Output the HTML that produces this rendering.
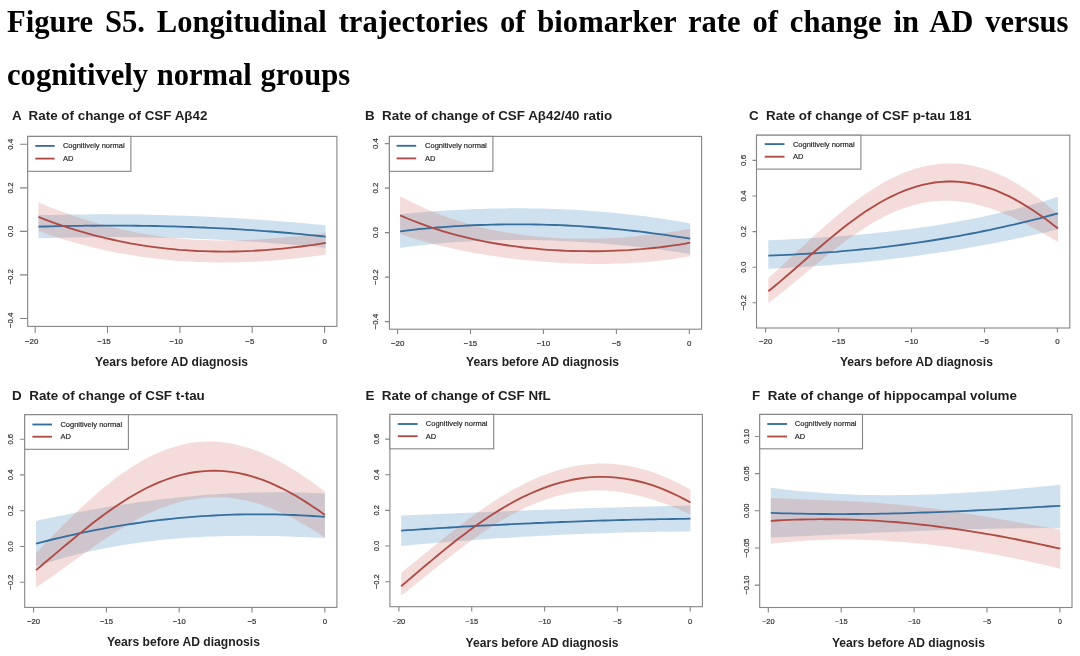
<!DOCTYPE html>
<html lang="en">
<head>
<meta charset="utf-8">
<title>Figure S5</title>
<style>
html,body{margin:0;padding:0;background:#fff;}
body{width:1080px;height:656px;position:relative;overflow:hidden;font-family:"Liberation Sans",sans-serif;}
.h{position:absolute;left:7px;font-family:"Liberation Serif",serif;font-weight:bold;font-size:30.6px;line-height:36px;color:#000;white-space:nowrap;margin:0;}
#h1{top:3.5px;width:1061.5px;text-align:justify;text-align-last:justify;white-space:normal;height:36px;overflow:hidden;}
#h2{top:56.5px;word-spacing:1px;}
svg{position:absolute;left:0;top:0;}
svg text{font-family:"Liberation Sans",sans-serif;}
.bb{fill:rgba(108,165,202,0.33);stroke:none;}
.rb{fill:rgba(208,120,108,0.26);stroke:none;}
.bl{fill:none;stroke:#336e9f;stroke-width:1.85;}
.rl{fill:none;stroke:#b04a45;stroke-width:1.85;}
.ax{fill:none;stroke:#858585;stroke-width:1.1;}
.lg{fill:#fff;stroke:#858585;stroke-width:1.1;}
.tk{fill:#303030;stroke:#303030;stroke-width:0.2;}
.lt{font-size:7.5px;fill:#2a2a2a;stroke:#2a2a2a;stroke-width:0.2;}
.tt{font-size:13.4px;font-weight:bold;fill:#1f1f1f;}
.xl{font-size:12.12px;font-weight:bold;fill:#1f1f1f;}
</style>
</head>
<body>
<div class="h" id="h1">Figure S5. Longitudinal trajectories of biomarker rate of change in AD versus</div>
<div class="h" id="h2">cognitively normal groups</div>
<svg width="1080" height="656" viewBox="0 0 1080 656">
<g id="plotA" font-size="7.9">
<path class="bb" d="M38.5,215.3 L44.6,215.1 L50.7,214.9 L56.8,214.8 L62.9,214.7 L69.1,214.6 L75.2,214.5 L81.3,214.4 L87.4,214.4 L93.5,214.3 L99.6,214.3 L105.7,214.3 L111.8,214.3 L117.9,214.4 L124.0,214.4 L130.2,214.5 L136.3,214.5 L142.4,214.6 L148.5,214.8 L154.6,214.9 L160.7,215.0 L166.8,215.2 L172.9,215.4 L179.0,215.6 L185.2,215.8 L191.3,216.0 L197.4,216.3 L203.5,216.5 L209.6,216.8 L215.7,217.1 L221.8,217.4 L227.9,217.7 L234.0,218.1 L240.2,218.5 L246.3,218.8 L252.4,219.2 L258.5,219.7 L264.6,220.1 L270.7,220.5 L276.8,221.0 L282.9,221.5 L289.0,222.0 L295.1,222.5 L301.3,223.0 L307.4,223.6 L313.5,224.2 L319.6,224.8 L325.7,225.4 L325.7,247.8 L319.6,247.2 L313.5,246.6 L307.4,246.0 L301.3,245.5 L295.1,244.9 L289.0,244.4 L282.9,243.9 L276.8,243.4 L270.7,243.0 L264.6,242.5 L258.5,242.1 L252.4,241.7 L246.3,241.3 L240.2,240.9 L234.0,240.5 L227.9,240.2 L221.8,239.9 L215.7,239.6 L209.6,239.3 L203.5,239.0 L197.4,238.8 L191.3,238.5 L185.2,238.3 L179.0,238.1 L172.9,238.0 L166.8,237.8 L160.7,237.7 L154.6,237.5 L148.5,237.4 L142.4,237.3 L136.3,237.3 L130.2,237.2 L124.0,237.2 L117.9,237.1 L111.8,237.1 L105.7,237.1 L99.6,237.2 L93.5,237.2 L87.4,237.3 L81.3,237.3 L75.2,237.4 L69.1,237.6 L62.9,237.7 L56.8,237.8 L50.7,238.0 L44.6,238.1 L38.5,238.3Z"/>
<path class="rb" d="M38.5,202.6 L44.6,205.1 L50.7,207.5 L56.8,209.8 L62.9,212.1 L69.1,214.3 L75.2,216.4 L81.3,218.4 L87.4,220.3 L93.5,222.1 L99.6,223.9 L105.7,225.5 L111.8,227.1 L117.9,228.6 L124.0,230.0 L130.2,231.3 L136.3,232.5 L142.4,233.6 L148.5,234.7 L154.6,235.6 L160.7,236.5 L166.8,237.2 L172.9,237.9 L179.0,238.5 L185.2,239.1 L191.3,239.5 L197.4,239.9 L203.5,240.1 L209.6,240.3 L215.7,240.5 L221.8,240.5 L227.9,240.5 L234.0,240.4 L240.2,240.3 L246.3,240.1 L252.4,239.8 L258.5,239.5 L264.6,239.1 L270.7,238.6 L276.8,238.1 L282.9,237.6 L289.0,237.0 L295.1,236.4 L301.3,235.7 L307.4,235.0 L313.5,234.3 L319.6,233.6 L325.7,232.8 L325.7,254.6 L319.6,255.5 L313.5,256.3 L307.4,257.1 L301.3,257.8 L295.1,258.5 L289.0,259.1 L282.9,259.7 L276.8,260.2 L270.7,260.7 L264.6,261.1 L258.5,261.4 L252.4,261.8 L246.3,262.0 L240.2,262.2 L234.0,262.3 L227.9,262.4 L221.8,262.4 L215.7,262.4 L209.6,262.3 L203.5,262.1 L197.4,261.9 L191.3,261.6 L185.2,261.3 L179.0,260.9 L172.9,260.4 L166.8,259.8 L160.7,259.2 L154.6,258.5 L148.5,257.8 L142.4,257.0 L136.3,256.1 L130.2,255.1 L124.0,254.1 L117.9,252.9 L111.8,251.7 L105.7,250.5 L99.6,249.1 L93.5,247.7 L87.4,246.1 L81.3,244.5 L75.2,242.8 L69.1,241.0 L62.9,239.2 L56.8,237.2 L50.7,235.2 L44.6,233.0 L38.5,230.8Z"/>
<path class="bl" d="M38.5,226.6 L44.6,226.5 L50.7,226.3 L56.8,226.2 L62.9,226.1 L69.1,225.9 L75.2,225.9 L81.3,225.8 L87.4,225.7 L93.5,225.7 L99.6,225.6 L105.7,225.6 L111.8,225.6 L117.9,225.6 L124.0,225.6 L130.2,225.7 L136.3,225.7 L142.4,225.8 L148.5,225.9 L154.6,226.0 L160.7,226.1 L166.8,226.3 L172.9,226.4 L179.0,226.6 L185.2,226.8 L191.3,227.0 L197.4,227.3 L203.5,227.5 L209.6,227.8 L215.7,228.1 L221.8,228.4 L227.9,228.7 L234.0,229.0 L240.2,229.4 L246.3,229.8 L252.4,230.2 L258.5,230.6 L264.6,231.1 L270.7,231.5 L276.8,232.0 L282.9,232.5 L289.0,233.0 L295.1,233.6 L301.3,234.2 L307.4,234.8 L313.5,235.4 L319.6,236.0 L325.7,236.7"/>
<path class="rl" d="M38.5,216.9 L44.6,219.3 L50.7,221.6 L56.8,223.8 L62.9,225.9 L69.1,227.9 L75.2,229.8 L81.3,231.7 L87.4,233.4 L93.5,235.1 L99.6,236.6 L105.7,238.1 L111.8,239.5 L117.9,240.9 L124.0,242.1 L130.2,243.3 L136.3,244.3 L142.4,245.4 L148.5,246.3 L154.6,247.1 L160.7,247.9 L166.8,248.6 L172.9,249.2 L179.0,249.8 L185.2,250.2 L191.3,250.6 L197.4,251.0 L203.5,251.2 L209.6,251.4 L215.7,251.5 L221.8,251.6 L227.9,251.6 L234.0,251.5 L240.2,251.4 L246.3,251.1 L252.4,250.9 L258.5,250.5 L264.6,250.1 L270.7,249.7 L276.8,249.2 L282.9,248.6 L289.0,247.9 L295.1,247.2 L301.3,246.5 L307.4,245.6 L313.5,244.8 L319.6,243.8 L325.7,242.8"/>
<rect class="ax" x="27.7" y="136.4" width="309.2" height="190.0"/>
<path class="ax" d="M35.2,326.4v6.5M107.5,326.4v6.5M179.9,326.4v6.5M252.2,326.4v6.5M324.6,326.4v6.5M27.7,144.3h-7.8M27.7,187.9h-7.8M27.7,231.4h-7.8M27.7,274.9h-7.8M27.7,318.5h-7.8"/>
<text class="tk" x="31.6" y="344.3" text-anchor="middle">−20</text>
<text class="tk" x="104.0" y="344.3" text-anchor="middle">−15</text>
<text class="tk" x="176.3" y="344.3" text-anchor="middle">−10</text>
<text class="tk" x="249.8" y="344.3" text-anchor="middle">−5</text>
<text class="tk" x="324.6" y="344.3" text-anchor="middle">0</text>
<text class="tk" transform="translate(13.0,144.3) rotate(-90)" text-anchor="middle">0.4</text>
<text class="tk" transform="translate(13.0,187.9) rotate(-90)" text-anchor="middle">0.2</text>
<text class="tk" transform="translate(13.0,231.4) rotate(-90)" text-anchor="middle">0.0</text>
<text class="tk" transform="translate(13.0,276.8) rotate(-90)" text-anchor="middle">−0.2</text>
<text class="tk" transform="translate(13.0,320.4) rotate(-90)" text-anchor="middle">−0.4</text>
<rect class="lg" x="27.7" y="136.4" width="103.2" height="34.9"/>
<path class="bl" d="M35.3,145.9H54.6"/>
<path class="rl" d="M35.3,158.6H54.6"/>
<text class="lt" x="62.9" y="148.3">Cognitively normal</text>
<text class="lt" x="62.9" y="161.0">AD</text>
<text class="tt" x="12.0" y="119.9" xml:space="preserve">A  Rate of change of CSF Aβ42</text>
<text class="xl" x="95.1" y="366.1">Years before AD diagnosis</text>
</g>
<g id="plotB" font-size="7.9">
<path class="bb" d="M400.1,214.2 L406.3,213.7 L412.4,213.1 L418.6,212.6 L424.8,212.0 L431.0,211.6 L437.1,211.1 L443.3,210.7 L449.5,210.3 L455.7,210.0 L461.8,209.7 L468.0,209.4 L474.2,209.1 L480.3,208.9 L486.5,208.7 L492.7,208.6 L498.9,208.4 L505.0,208.4 L511.2,208.3 L517.4,208.3 L523.5,208.3 L529.7,208.4 L535.9,208.5 L542.1,208.6 L548.2,208.8 L554.4,209.0 L560.6,209.2 L566.8,209.5 L572.9,209.8 L579.1,210.1 L585.3,210.5 L591.4,211.0 L597.6,211.4 L603.8,211.9 L610.0,212.5 L616.1,213.1 L622.3,213.7 L628.5,214.4 L634.6,215.1 L640.8,215.8 L647.0,216.6 L653.2,217.5 L659.3,218.3 L665.5,219.3 L671.7,220.2 L677.9,221.2 L684.0,222.3 L690.2,223.4 L690.2,253.9 L684.0,253.0 L677.9,252.1 L671.7,251.2 L665.5,250.4 L659.3,249.6 L653.2,248.8 L647.0,248.0 L640.8,247.3 L634.6,246.6 L628.5,246.0 L622.3,245.3 L616.1,244.7 L610.0,244.2 L603.8,243.6 L597.6,243.1 L591.4,242.7 L585.3,242.3 L579.1,241.9 L572.9,241.5 L566.8,241.2 L560.6,240.9 L554.4,240.6 L548.2,240.4 L542.1,240.3 L535.9,240.1 L529.7,240.0 L523.5,240.0 L517.4,240.0 L511.2,240.0 L505.0,240.1 L498.9,240.2 L492.7,240.3 L486.5,240.5 L480.3,240.8 L474.2,241.0 L468.0,241.4 L461.8,241.7 L455.7,242.1 L449.5,242.6 L443.3,243.1 L437.1,243.7 L431.0,244.3 L424.8,244.9 L418.6,245.6 L412.4,246.3 L406.3,247.1 L400.1,248.0Z"/>
<path class="rb" d="M400.1,196.2 L406.3,199.5 L412.4,202.6 L418.6,205.5 L424.8,208.2 L431.0,210.9 L437.1,213.4 L443.3,215.7 L449.5,217.9 L455.7,220.0 L461.8,221.9 L468.0,223.7 L474.2,225.4 L480.3,227.0 L486.5,228.5 L492.7,229.9 L498.9,231.1 L505.0,232.3 L511.2,233.3 L517.4,234.2 L523.5,235.1 L529.7,235.8 L535.9,236.5 L542.1,237.1 L548.2,237.6 L554.4,238.0 L560.6,238.3 L566.8,238.5 L572.9,238.7 L579.1,238.8 L585.3,238.8 L591.4,238.7 L597.6,238.6 L603.8,238.4 L610.0,238.1 L616.1,237.8 L622.3,237.4 L628.5,236.9 L634.6,236.4 L640.8,235.8 L647.0,235.1 L653.2,234.4 L659.3,233.6 L665.5,232.7 L671.7,231.8 L677.9,230.9 L684.0,229.8 L690.2,228.7 L690.2,256.2 L684.0,257.3 L677.9,258.3 L671.7,259.2 L665.5,260.0 L659.3,260.7 L653.2,261.3 L647.0,261.9 L640.8,262.4 L634.6,262.8 L628.5,263.2 L622.3,263.4 L616.1,263.6 L610.0,263.8 L603.8,263.9 L597.6,263.9 L591.4,263.9 L585.3,263.8 L579.1,263.6 L572.9,263.4 L566.8,263.2 L560.6,262.9 L554.4,262.5 L548.2,262.1 L542.1,261.6 L535.9,261.1 L529.7,260.5 L523.5,259.9 L517.4,259.2 L511.2,258.5 L505.0,257.7 L498.9,256.8 L492.7,255.9 L486.5,255.0 L480.3,253.9 L474.2,252.9 L468.0,251.7 L461.8,250.5 L455.7,249.2 L449.5,247.8 L443.3,246.4 L437.1,244.9 L431.0,243.3 L424.8,241.6 L418.6,239.9 L412.4,238.0 L406.3,236.1 L400.1,234.1Z"/>
<path class="bl" d="M400.1,231.3 L406.3,230.6 L412.4,229.9 L418.6,229.2 L424.8,228.6 L431.0,228.1 L437.1,227.5 L443.3,227.1 L449.5,226.6 L455.7,226.2 L461.8,225.8 L468.0,225.5 L474.2,225.2 L480.3,225.0 L486.5,224.8 L492.7,224.6 L498.9,224.5 L505.0,224.4 L511.2,224.3 L517.4,224.3 L523.5,224.3 L529.7,224.4 L535.9,224.5 L542.1,224.6 L548.2,224.8 L554.4,225.0 L560.6,225.2 L566.8,225.5 L572.9,225.8 L579.1,226.2 L585.3,226.6 L591.4,227.0 L597.6,227.5 L603.8,228.0 L610.0,228.5 L616.1,229.1 L622.3,229.7 L628.5,230.3 L634.6,231.0 L640.8,231.7 L647.0,232.5 L653.2,233.3 L659.3,234.1 L665.5,234.9 L671.7,235.8 L677.9,236.8 L684.0,237.7 L690.2,238.7"/>
<path class="rl" d="M400.1,215.4 L406.3,218.0 L412.4,220.5 L418.6,222.9 L424.8,225.2 L431.0,227.3 L437.1,229.4 L443.3,231.3 L449.5,233.1 L455.7,234.8 L461.8,236.4 L468.0,237.9 L474.2,239.3 L480.3,240.6 L486.5,241.8 L492.7,243.0 L498.9,244.0 L505.0,245.0 L511.2,245.9 L517.4,246.7 L523.5,247.5 L529.7,248.1 L535.9,248.7 L542.1,249.3 L548.2,249.8 L554.4,250.2 L560.6,250.5 L566.8,250.8 L572.9,251.0 L579.1,251.1 L585.3,251.2 L591.4,251.2 L597.6,251.2 L603.8,251.1 L610.0,250.9 L616.1,250.7 L622.3,250.4 L628.5,250.1 L634.6,249.6 L640.8,249.2 L647.0,248.6 L653.2,248.0 L659.3,247.3 L665.5,246.5 L671.7,245.7 L677.9,244.8 L684.0,243.8 L690.2,242.7"/>
<rect class="ax" x="389.4" y="136.4" width="312.2" height="192.8"/>
<path class="ax" d="M397.6,329.2v4.8M470.5,329.2v4.8M543.4,329.2v4.8M616.4,329.2v4.8M689.3,329.2v4.8M389.4,143.6h-4.5M389.4,188.1h-4.5M389.4,232.6h-4.5M389.4,277.1h-4.5M389.4,321.6h-4.5"/>
<text class="tk" x="397.6" y="345.6" text-anchor="middle">−20</text>
<text class="tk" x="470.5" y="345.6" text-anchor="middle">−15</text>
<text class="tk" x="543.4" y="345.6" text-anchor="middle">−10</text>
<text class="tk" x="616.4" y="345.6" text-anchor="middle">−5</text>
<text class="tk" x="689.3" y="345.6" text-anchor="middle">0</text>
<text class="tk" transform="translate(378.4,143.6) rotate(-90)" text-anchor="middle">0.4</text>
<text class="tk" transform="translate(378.4,188.1) rotate(-90)" text-anchor="middle">0.2</text>
<text class="tk" transform="translate(378.4,232.6) rotate(-90)" text-anchor="middle">0.0</text>
<text class="tk" transform="translate(378.4,277.1) rotate(-90)" text-anchor="middle">−0.2</text>
<text class="tk" transform="translate(378.4,321.6) rotate(-90)" text-anchor="middle">−0.4</text>
<rect class="lg" x="389.4" y="136.4" width="103.5" height="34.9"/>
<path class="bl" d="M396.6,145.8H416.2"/>
<path class="rl" d="M396.6,158.4H416.2"/>
<text class="lt" x="425.1" y="148.2">Cognitively normal</text>
<text class="lt" x="425.1" y="160.8">AD</text>
<text class="tt" x="365.0" y="119.9" xml:space="preserve">B  Rate of change of CSF Aβ42/40 ratio</text>
<text class="xl" x="466.0" y="366.1">Years before AD diagnosis</text>
</g>
<g id="plotC" font-size="7.9">
<path class="bb" d="M768.3,240.3 L774.5,240.0 L780.6,239.7 L786.8,239.4 L793.0,239.1 L799.1,238.8 L805.3,238.5 L811.4,238.1 L817.6,237.7 L823.8,237.3 L829.9,236.9 L836.1,236.5 L842.3,236.0 L848.4,235.5 L854.6,235.0 L860.8,234.4 L866.9,233.9 L873.1,233.3 L879.2,232.6 L885.4,232.0 L891.6,231.3 L897.7,230.6 L903.9,229.8 L910.1,229.0 L916.2,228.2 L922.4,227.3 L928.6,226.4 L934.7,225.5 L940.9,224.5 L947.1,223.5 L953.2,222.4 L959.4,221.3 L965.5,220.2 L971.7,219.0 L977.9,217.7 L984.0,216.4 L990.2,215.1 L996.4,213.7 L1002.5,212.3 L1008.7,210.8 L1014.9,209.2 L1021.0,207.6 L1027.2,206.0 L1033.3,204.3 L1039.5,202.5 L1045.7,200.7 L1051.8,198.8 L1058.0,196.8 L1058.0,229.2 L1051.8,230.7 L1045.7,232.2 L1039.5,233.6 L1033.3,235.0 L1027.2,236.3 L1021.0,237.7 L1014.9,239.0 L1008.7,240.2 L1002.5,241.5 L996.4,242.7 L990.2,243.9 L984.0,245.0 L977.9,246.2 L971.7,247.2 L965.5,248.3 L959.4,249.4 L953.2,250.4 L947.1,251.4 L940.9,252.3 L934.7,253.2 L928.6,254.1 L922.4,255.0 L916.2,255.9 L910.1,256.7 L903.9,257.5 L897.7,258.3 L891.6,259.0 L885.4,259.7 L879.2,260.4 L873.1,261.1 L866.9,261.7 L860.8,262.4 L854.6,263.0 L848.4,263.5 L842.3,264.1 L836.1,264.6 L829.9,265.1 L823.8,265.6 L817.6,266.0 L811.4,266.4 L805.3,266.8 L799.1,267.2 L793.0,267.6 L786.8,267.9 L780.6,268.2 L774.5,268.5 L768.3,268.8Z"/>
<path class="rb" d="M768.3,278.2 L774.5,272.5 L780.6,266.9 L786.8,261.1 L793.0,255.4 L799.1,249.6 L805.3,243.9 L811.4,238.2 L817.6,232.6 L823.8,227.1 L829.9,221.7 L836.1,216.5 L842.3,211.4 L848.4,206.5 L854.6,201.8 L860.8,197.2 L866.9,193.0 L873.1,188.9 L879.2,185.2 L885.4,181.6 L891.6,178.4 L897.7,175.5 L903.9,172.8 L910.1,170.5 L916.2,168.5 L922.4,166.8 L928.6,165.5 L934.7,164.4 L940.9,163.8 L947.1,163.4 L953.2,163.4 L959.4,163.8 L965.5,164.5 L971.7,165.6 L977.9,167.0 L984.0,168.7 L990.2,170.8 L996.4,173.2 L1002.5,176.0 L1008.7,179.0 L1014.9,182.4 L1021.0,186.2 L1027.2,190.2 L1033.3,194.5 L1039.5,199.0 L1045.7,203.9 L1051.8,209.0 L1058.0,214.3 L1058.0,241.9 L1051.8,238.4 L1045.7,234.8 L1039.5,231.3 L1033.3,227.9 L1027.2,224.6 L1021.0,221.4 L1014.9,218.4 L1008.7,215.6 L1002.5,212.9 L996.4,210.5 L990.2,208.3 L984.0,206.4 L977.9,204.7 L971.7,203.3 L965.5,202.2 L959.4,201.4 L953.2,200.9 L947.1,200.7 L940.9,200.8 L934.7,201.2 L928.6,202.0 L922.4,203.1 L916.2,204.4 L910.1,206.2 L903.9,208.2 L897.7,210.5 L891.6,213.1 L885.4,216.0 L879.2,219.2 L873.1,222.7 L866.9,226.4 L860.8,230.4 L854.6,234.5 L848.4,238.9 L842.3,243.5 L836.1,248.2 L829.9,253.0 L823.8,258.0 L817.6,263.1 L811.4,268.2 L805.3,273.3 L799.1,278.5 L793.0,283.6 L786.8,288.7 L780.6,293.6 L774.5,298.5 L768.3,303.1Z"/>
<path class="bl" d="M768.3,255.6 L774.5,255.4 L780.6,255.1 L786.8,254.9 L793.0,254.6 L799.1,254.2 L805.3,253.9 L811.4,253.5 L817.6,253.1 L823.8,252.7 L829.9,252.2 L836.1,251.8 L842.3,251.2 L848.4,250.7 L854.6,250.1 L860.8,249.5 L866.9,248.9 L873.1,248.3 L879.2,247.6 L885.4,246.8 L891.6,246.1 L897.7,245.3 L903.9,244.5 L910.1,243.7 L916.2,242.8 L922.4,241.9 L928.6,241.0 L934.7,240.0 L940.9,239.0 L947.1,238.0 L953.2,236.9 L959.4,235.8 L965.5,234.6 L971.7,233.5 L977.9,232.3 L984.0,231.0 L990.2,229.8 L996.4,228.4 L1002.5,227.1 L1008.7,225.7 L1014.9,224.3 L1021.0,222.8 L1027.2,221.3 L1033.3,219.8 L1039.5,218.3 L1045.7,216.6 L1051.8,215.0 L1058.0,213.3"/>
<path class="rl" d="M768.3,291.2 L774.5,286.2 L780.6,281.1 L786.8,275.8 L793.0,270.5 L799.1,265.1 L805.3,259.7 L811.4,254.3 L817.6,249.0 L823.8,243.7 L829.9,238.6 L836.1,233.5 L842.3,228.6 L848.4,223.8 L854.6,219.2 L860.8,214.8 L866.9,210.6 L873.1,206.7 L879.2,203.0 L885.4,199.5 L891.6,196.4 L897.7,193.5 L903.9,190.9 L910.1,188.6 L916.2,186.6 L922.4,184.9 L928.6,183.6 L934.7,182.5 L940.9,181.9 L947.1,181.5 L953.2,181.5 L959.4,181.8 L965.5,182.5 L971.7,183.5 L977.9,184.8 L984.0,186.5 L990.2,188.5 L996.4,190.7 L1002.5,193.3 L1008.7,196.2 L1014.9,199.4 L1021.0,202.9 L1027.2,206.6 L1033.3,210.5 L1039.5,214.7 L1045.7,219.1 L1051.8,223.7 L1058.0,228.5"/>
<rect class="ax" x="756.5" y="135.2" width="313.3" height="192.8"/>
<path class="ax" d="M765.6,328.0v4.5M838.6,328.0v4.5M911.5,328.0v4.5M984.5,328.0v4.5M1057.4,328.0v4.5M756.5,160.4h-4.0M756.5,196.0h-4.0M756.5,231.6h-4.0M756.5,267.2h-4.0M756.5,302.8h-4.0"/>
<text class="tk" x="765.6" y="344.3" text-anchor="middle">−20</text>
<text class="tk" x="838.6" y="344.3" text-anchor="middle">−15</text>
<text class="tk" x="911.5" y="344.3" text-anchor="middle">−10</text>
<text class="tk" x="984.5" y="344.3" text-anchor="middle">−5</text>
<text class="tk" x="1057.4" y="344.3" text-anchor="middle">0</text>
<text class="tk" transform="translate(746.0,160.4) rotate(-90)" text-anchor="middle">0.6</text>
<text class="tk" transform="translate(746.0,196.0) rotate(-90)" text-anchor="middle">0.4</text>
<text class="tk" transform="translate(746.0,231.6) rotate(-90)" text-anchor="middle">0.2</text>
<text class="tk" transform="translate(746.0,267.2) rotate(-90)" text-anchor="middle">0.0</text>
<text class="tk" transform="translate(746.0,302.8) rotate(-90)" text-anchor="middle">−0.2</text>
<rect class="lg" x="756.5" y="135.2" width="104.4" height="33.9"/>
<path class="bl" d="M764.7,144.1H784.5"/>
<path class="rl" d="M764.7,156.7H784.5"/>
<text class="lt" x="792.9" y="146.5">Cognitively normal</text>
<text class="lt" x="792.9" y="159.1">AD</text>
<text class="tt" x="749.0" y="119.9" xml:space="preserve">C  Rate of change of CSF p-tau 181</text>
<text class="xl" x="839.9" y="366.1">Years before AD diagnosis</text>
</g>
<g id="plotD" font-size="7.7">
<path class="bb" d="M36.0,520.9 L42.1,519.5 L48.3,518.2 L54.4,516.9 L60.6,515.7 L66.7,514.4 L72.9,513.2 L79.0,512.0 L85.2,510.9 L91.3,509.8 L97.5,508.7 L103.6,507.7 L109.8,506.6 L115.9,505.6 L122.1,504.7 L128.2,503.8 L134.3,502.9 L140.5,502.0 L146.6,501.2 L152.8,500.4 L158.9,499.6 L165.1,498.9 L171.2,498.2 L177.4,497.6 L183.5,496.9 L189.7,496.4 L195.8,495.8 L202.0,495.3 L208.1,494.8 L214.3,494.4 L220.4,494.0 L226.6,493.7 L232.7,493.3 L238.8,493.1 L245.0,492.8 L251.1,492.6 L257.3,492.5 L263.4,492.4 L269.6,492.3 L275.7,492.2 L281.9,492.3 L288.0,492.3 L294.2,492.4 L300.3,492.5 L306.5,492.7 L312.6,492.9 L318.8,493.2 L324.9,493.5 L324.9,538.0 L318.8,537.7 L312.6,537.4 L306.5,537.1 L300.3,536.9 L294.2,536.7 L288.0,536.5 L281.9,536.3 L275.7,536.1 L269.6,536.0 L263.4,535.9 L257.3,535.9 L251.1,535.8 L245.0,535.8 L238.8,535.9 L232.7,535.9 L226.6,536.1 L220.4,536.2 L214.3,536.4 L208.1,536.6 L202.0,536.9 L195.8,537.3 L189.7,537.6 L183.5,538.1 L177.4,538.5 L171.2,539.0 L165.1,539.6 L158.9,540.2 L152.8,540.9 L146.6,541.7 L140.5,542.5 L134.3,543.3 L128.2,544.2 L122.1,545.2 L115.9,546.3 L109.8,547.4 L103.6,548.6 L97.5,549.8 L91.3,551.1 L85.2,552.5 L79.0,554.0 L72.9,555.5 L66.7,557.1 L60.6,558.8 L54.4,560.5 L48.3,562.4 L42.1,564.3 L36.0,566.3Z"/>
<path class="rb" d="M36.0,553.0 L42.1,546.7 L48.3,540.3 L54.4,534.0 L60.6,527.8 L66.7,521.7 L72.9,515.6 L79.0,509.8 L85.2,504.0 L91.3,498.4 L97.5,493.0 L103.6,487.8 L109.8,482.9 L115.9,478.1 L122.1,473.6 L128.2,469.4 L134.3,465.4 L140.5,461.7 L146.6,458.3 L152.8,455.2 L158.9,452.4 L165.1,449.9 L171.2,447.7 L177.4,445.9 L183.5,444.3 L189.7,443.1 L195.8,442.3 L202.0,441.7 L208.1,441.5 L214.3,441.6 L220.4,442.0 L226.6,442.8 L232.7,443.8 L238.8,445.2 L245.0,446.9 L251.1,448.8 L257.3,451.1 L263.4,453.6 L269.6,456.4 L275.7,459.5 L281.9,462.8 L288.0,466.4 L294.2,470.1 L300.3,474.1 L306.5,478.2 L312.6,482.5 L318.8,487.0 L324.9,491.6 L324.9,537.5 L318.8,533.5 L312.6,529.6 L306.5,525.9 L300.3,522.4 L294.2,519.0 L288.0,515.9 L281.9,513.0 L275.7,510.2 L269.6,507.8 L263.4,505.5 L257.3,503.5 L251.1,501.8 L245.0,500.3 L238.8,499.2 L232.7,498.2 L226.6,497.6 L220.4,497.3 L214.3,497.2 L208.1,497.4 L202.0,497.9 L195.8,498.7 L189.7,499.8 L183.5,501.1 L177.4,502.7 L171.2,504.6 L165.1,506.7 L158.9,509.1 L152.8,511.7 L146.6,514.6 L140.5,517.6 L134.3,520.9 L128.2,524.4 L122.1,528.0 L115.9,531.8 L109.8,535.8 L103.6,539.9 L97.5,544.1 L91.3,548.4 L85.2,552.7 L79.0,557.2 L72.9,561.6 L66.7,566.1 L60.6,570.5 L54.4,574.9 L48.3,579.2 L42.1,583.4 L36.0,587.5Z"/>
<path class="bl" d="M36.0,543.7 L42.1,542.1 L48.3,540.5 L54.4,539.0 L60.6,537.6 L66.7,536.1 L72.9,534.8 L79.0,533.4 L85.2,532.1 L91.3,530.9 L97.5,529.7 L103.6,528.6 L109.8,527.4 L115.9,526.4 L122.1,525.4 L128.2,524.4 L134.3,523.5 L140.5,522.6 L146.6,521.7 L152.8,520.9 L158.9,520.2 L165.1,519.5 L171.2,518.8 L177.4,518.2 L183.5,517.7 L189.7,517.1 L195.8,516.6 L202.0,516.2 L208.1,515.8 L214.3,515.5 L220.4,515.2 L226.6,514.9 L232.7,514.7 L238.8,514.5 L245.0,514.4 L251.1,514.3 L257.3,514.3 L263.4,514.3 L269.6,514.3 L275.7,514.4 L281.9,514.6 L288.0,514.8 L294.2,515.0 L300.3,515.3 L306.5,515.6 L312.6,516.0 L318.8,516.4 L324.9,516.8"/>
<path class="rl" d="M36.0,570.1 L42.1,565.0 L48.3,559.8 L54.4,554.6 L60.6,549.4 L66.7,544.3 L72.9,539.2 L79.0,534.1 L85.2,529.2 L91.3,524.3 L97.5,519.6 L103.6,515.0 L109.8,510.5 L115.9,506.3 L122.1,502.2 L128.2,498.3 L134.3,494.7 L140.5,491.2 L146.6,488.0 L152.8,485.1 L158.9,482.4 L165.1,480.0 L171.2,477.8 L177.4,475.9 L183.5,474.3 L189.7,473.0 L195.8,472.0 L202.0,471.3 L208.1,470.9 L214.3,470.7 L220.4,470.9 L226.6,471.4 L232.7,472.1 L238.8,473.2 L245.0,474.5 L251.1,476.1 L257.3,478.1 L263.4,480.2 L269.6,482.7 L275.7,485.4 L281.9,488.3 L288.0,491.5 L294.2,494.9 L300.3,498.5 L306.5,502.4 L312.6,506.4 L318.8,510.6 L324.9,514.9"/>
<rect class="ax" x="24.7" y="414.7" width="312.2" height="192.7"/>
<path class="ax" d="M33.6,607.4v5.0M106.4,607.4v5.0M179.2,607.4v5.0M252.0,607.4v5.0M324.8,607.4v5.0M24.7,439.2h-4.6M24.7,474.9h-4.6M24.7,510.7h-4.6M24.7,546.5h-4.6M24.7,582.2h-4.6"/>
<text class="tk" x="33.6" y="623.6" text-anchor="middle">−20</text>
<text class="tk" x="106.4" y="623.6" text-anchor="middle">−15</text>
<text class="tk" x="179.2" y="623.6" text-anchor="middle">−10</text>
<text class="tk" x="252.0" y="623.6" text-anchor="middle">−5</text>
<text class="tk" x="324.8" y="623.6" text-anchor="middle">0</text>
<text class="tk" transform="translate(13.0,439.2) rotate(-90)" text-anchor="middle">0.6</text>
<text class="tk" transform="translate(13.0,474.9) rotate(-90)" text-anchor="middle">0.4</text>
<text class="tk" transform="translate(13.0,510.7) rotate(-90)" text-anchor="middle">0.2</text>
<text class="tk" transform="translate(13.0,546.5) rotate(-90)" text-anchor="middle">0.0</text>
<text class="tk" transform="translate(13.0,582.2) rotate(-90)" text-anchor="middle">−0.2</text>
<rect class="lg" x="24.7" y="414.7" width="103.7" height="34.6"/>
<path class="bl" d="M32.4,424.5H52.0"/>
<path class="rl" d="M32.4,436.7H52.0"/>
<text class="lt" x="60.4" y="426.9">Cognitively normal</text>
<text class="lt" x="60.4" y="439.1">AD</text>
<text class="tt" x="12.1" y="400.4" xml:space="preserve">D  Rate of change of CSF t-tau</text>
<text class="xl" x="106.9" y="646.2">Years before AD diagnosis</text>
</g>
<g id="plotE" font-size="7.5">
<path class="bb" d="M401.2,515.4 L407.4,515.2 L413.5,514.9 L419.7,514.7 L425.8,514.4 L432.0,514.2 L438.1,513.9 L444.3,513.7 L450.4,513.5 L456.6,513.2 L462.8,513.0 L468.9,512.7 L475.1,512.5 L481.2,512.2 L487.4,512.0 L493.5,511.7 L499.7,511.5 L505.8,511.3 L512.0,511.0 L518.2,510.8 L524.3,510.5 L530.5,510.3 L536.6,510.1 L542.8,509.8 L548.9,509.6 L555.1,509.4 L561.2,509.2 L567.4,509.0 L573.5,508.8 L579.7,508.5 L585.9,508.3 L592.0,508.1 L598.2,507.9 L604.3,507.7 L610.5,507.6 L616.6,507.4 L622.8,507.2 L628.9,507.0 L635.1,506.8 L641.3,506.7 L647.4,506.5 L653.6,506.4 L659.7,506.2 L665.9,506.1 L672.0,506.0 L678.2,505.8 L684.3,505.7 L690.5,505.6 L690.5,531.5 L684.3,531.6 L678.2,531.6 L672.0,531.7 L665.9,531.8 L659.7,531.8 L653.6,531.9 L647.4,532.0 L641.3,532.2 L635.1,532.3 L628.9,532.4 L622.8,532.6 L616.6,532.8 L610.5,533.0 L604.3,533.2 L598.2,533.4 L592.0,533.6 L585.9,533.8 L579.7,534.1 L573.5,534.3 L567.4,534.6 L561.2,534.8 L555.1,535.1 L548.9,535.4 L542.8,535.8 L536.6,536.1 L530.5,536.4 L524.3,536.8 L518.2,537.1 L512.0,537.5 L505.8,537.9 L499.7,538.2 L493.5,538.6 L487.4,539.1 L481.2,539.5 L475.1,539.9 L468.9,540.4 L462.8,540.8 L456.6,541.3 L450.4,541.8 L444.3,542.2 L438.1,542.7 L432.0,543.2 L425.8,543.8 L419.7,544.3 L413.5,544.8 L407.4,545.4 L401.2,545.9Z"/>
<path class="rb" d="M401.2,572.7 L407.4,567.8 L413.5,562.8 L419.7,557.8 L425.8,552.8 L432.0,547.8 L438.1,542.8 L444.3,537.8 L450.4,532.9 L456.6,528.1 L462.8,523.4 L468.9,518.8 L475.1,514.3 L481.2,509.9 L487.4,505.6 L493.5,501.5 L499.7,497.6 L505.8,493.9 L512.0,490.3 L518.2,486.9 L524.3,483.7 L530.5,480.8 L536.6,478.0 L542.8,475.5 L548.9,473.2 L555.1,471.1 L561.2,469.3 L567.4,467.7 L573.5,466.4 L579.7,465.3 L585.9,464.5 L592.0,463.9 L598.2,463.6 L604.3,463.6 L610.5,463.8 L616.6,464.3 L622.8,465.1 L628.9,466.1 L635.1,467.3 L641.3,468.9 L647.4,470.6 L653.6,472.6 L659.7,474.9 L665.9,477.4 L672.0,480.1 L678.2,483.1 L684.3,486.3 L690.5,489.7 L690.5,514.6 L684.3,511.8 L678.2,509.1 L672.0,506.5 L665.9,504.1 L659.7,501.9 L653.6,499.8 L647.4,497.9 L641.3,496.2 L635.1,494.7 L628.9,493.4 L622.8,492.4 L616.6,491.6 L610.5,491.0 L604.3,490.6 L598.2,490.5 L592.0,490.6 L585.9,491.0 L579.7,491.6 L573.5,492.5 L567.4,493.6 L561.2,495.0 L555.1,496.6 L548.9,498.5 L542.8,500.6 L536.6,503.0 L530.5,505.5 L524.3,508.3 L518.2,511.4 L512.0,514.6 L505.8,518.0 L499.7,521.7 L493.5,525.5 L487.4,529.5 L481.2,533.6 L475.1,537.9 L468.9,542.4 L462.8,546.9 L456.6,551.6 L450.4,556.4 L444.3,561.2 L438.1,566.1 L432.0,571.1 L425.8,576.0 L419.7,581.0 L413.5,586.0 L407.4,590.9 L401.2,595.7Z"/>
<path class="bl" d="M401.2,530.6 L407.4,530.2 L413.5,529.8 L419.7,529.4 L425.8,529.0 L432.0,528.6 L438.1,528.2 L444.3,527.8 L450.4,527.5 L456.6,527.1 L462.8,526.7 L468.9,526.4 L475.1,526.0 L481.2,525.7 L487.4,525.4 L493.5,525.1 L499.7,524.8 L505.8,524.5 L512.0,524.2 L518.2,523.9 L524.3,523.6 L530.5,523.3 L536.6,523.0 L542.8,522.8 L548.9,522.5 L555.1,522.3 L561.2,522.0 L567.4,521.8 L573.5,521.6 L579.7,521.3 L585.9,521.1 L592.0,520.9 L598.2,520.7 L604.3,520.5 L610.5,520.4 L616.6,520.2 L622.8,520.0 L628.9,519.9 L635.1,519.7 L641.3,519.6 L647.4,519.4 L653.6,519.3 L659.7,519.2 L665.9,519.1 L672.0,519.0 L678.2,518.9 L684.3,518.8 L690.5,518.7"/>
<path class="rl" d="M401.2,586.2 L407.4,580.9 L413.5,575.7 L419.7,570.4 L425.8,565.2 L432.0,560.1 L438.1,555.0 L444.3,549.9 L450.4,545.0 L456.6,540.1 L462.8,535.4 L468.9,530.8 L475.1,526.3 L481.2,522.0 L487.4,517.8 L493.5,513.8 L499.7,509.9 L505.8,506.2 L512.0,502.7 L518.2,499.4 L524.3,496.3 L530.5,493.5 L536.6,490.8 L542.8,488.3 L548.9,486.1 L555.1,484.1 L561.2,482.3 L567.4,480.8 L573.5,479.5 L579.7,478.5 L585.9,477.7 L592.0,477.2 L598.2,476.9 L604.3,476.9 L610.5,477.1 L616.6,477.6 L622.8,478.3 L628.9,479.3 L635.1,480.5 L641.3,482.0 L647.4,483.7 L653.6,485.7 L659.7,487.9 L665.9,490.4 L672.0,493.1 L678.2,496.0 L684.3,499.1 L690.5,502.5"/>
<rect class="ax" x="389.9" y="414.4" width="312.5" height="192.3"/>
<path class="ax" d="M398.9,606.7v4.7M471.7,606.7v4.7M544.6,606.7v4.7M617.4,606.7v4.7M690.2,606.7v4.7M389.9,439.1h-4.7M389.9,474.8h-4.7M389.9,510.4h-4.7M389.9,546.0h-4.7M389.9,581.7h-4.7"/>
<text class="tk" x="398.9" y="623.6" text-anchor="middle">−20</text>
<text class="tk" x="471.7" y="623.6" text-anchor="middle">−15</text>
<text class="tk" x="544.6" y="623.6" text-anchor="middle">−10</text>
<text class="tk" x="617.4" y="623.6" text-anchor="middle">−5</text>
<text class="tk" x="690.2" y="623.6" text-anchor="middle">0</text>
<text class="tk" transform="translate(379.0,439.1) rotate(-90)" text-anchor="middle">0.6</text>
<text class="tk" transform="translate(379.0,474.8) rotate(-90)" text-anchor="middle">0.4</text>
<text class="tk" transform="translate(379.0,510.4) rotate(-90)" text-anchor="middle">0.2</text>
<text class="tk" transform="translate(379.0,546.0) rotate(-90)" text-anchor="middle">0.0</text>
<text class="tk" transform="translate(379.0,581.7) rotate(-90)" text-anchor="middle">−0.2</text>
<rect class="lg" x="389.9" y="414.4" width="103.8" height="34.4"/>
<path class="bl" d="M397.8,424.0H417.6"/>
<path class="rl" d="M397.8,436.2H417.6"/>
<text class="lt" x="425.8" y="426.4">Cognitively normal</text>
<text class="lt" x="425.8" y="438.6">AD</text>
<text class="tt" x="365.5" y="400.1" xml:space="preserve">E  Rate of change of CSF NfL</text>
<text class="xl" x="465.6" y="646.6">Years before AD diagnosis</text>
</g>
<g id="plotF" font-size="7.5">
<path class="bb" d="M770.8,487.7 L777.0,488.5 L783.1,489.3 L789.3,490.0 L795.4,490.7 L801.6,491.3 L807.8,491.8 L813.9,492.3 L820.1,492.8 L826.2,493.2 L832.4,493.6 L838.6,493.9 L844.7,494.2 L850.9,494.5 L857.0,494.7 L863.2,494.9 L869.4,495.0 L875.5,495.1 L881.7,495.2 L887.8,495.2 L894.0,495.2 L900.2,495.1 L906.3,495.1 L912.5,494.9 L918.6,494.8 L924.8,494.6 L930.9,494.4 L937.1,494.2 L943.3,493.9 L949.4,493.6 L955.6,493.3 L961.7,493.0 L967.9,492.6 L974.1,492.2 L980.2,491.8 L986.4,491.4 L992.5,490.9 L998.7,490.4 L1004.9,489.9 L1011.0,489.4 L1017.2,488.9 L1023.3,488.3 L1029.5,487.8 L1035.7,487.2 L1041.8,486.6 L1048.0,486.0 L1054.1,485.4 L1060.3,484.7 L1060.3,528.2 L1054.1,528.2 L1048.0,528.1 L1041.8,528.1 L1035.7,528.2 L1029.5,528.2 L1023.3,528.2 L1017.2,528.3 L1011.0,528.4 L1004.9,528.5 L998.7,528.6 L992.5,528.7 L986.4,528.8 L980.2,529.0 L974.1,529.1 L967.9,529.3 L961.7,529.5 L955.6,529.7 L949.4,529.9 L943.3,530.1 L937.1,530.3 L930.9,530.5 L924.8,530.8 L918.6,531.0 L912.5,531.2 L906.3,531.5 L900.2,531.8 L894.0,532.0 L887.8,532.3 L881.7,532.6 L875.5,532.8 L869.4,533.1 L863.2,533.4 L857.0,533.7 L850.9,534.0 L844.7,534.2 L838.6,534.5 L832.4,534.8 L826.2,535.1 L820.1,535.3 L813.9,535.6 L807.8,535.9 L801.6,536.2 L795.4,536.4 L789.3,536.7 L783.1,536.9 L777.0,537.2 L770.8,537.4Z"/>
<path class="rb" d="M770.8,497.9 L777.0,498.2 L783.1,498.5 L789.3,498.8 L795.4,499.0 L801.6,499.2 L807.8,499.5 L813.9,499.7 L820.1,499.9 L826.2,500.2 L832.4,500.4 L838.6,500.7 L844.7,500.9 L850.9,501.2 L857.0,501.6 L863.2,501.9 L869.4,502.3 L875.5,502.7 L881.7,503.2 L887.8,503.7 L894.0,504.2 L900.2,504.8 L906.3,505.4 L912.5,506.1 L918.6,506.7 L924.8,507.5 L930.9,508.3 L937.1,509.1 L943.3,509.9 L949.4,510.8 L955.6,511.7 L961.7,512.7 L967.9,513.7 L974.1,514.7 L980.2,515.7 L986.4,516.8 L992.5,517.8 L998.7,518.9 L1004.9,520.0 L1011.0,521.1 L1017.2,522.2 L1023.3,523.3 L1029.5,524.4 L1035.7,525.5 L1041.8,526.5 L1048.0,527.5 L1054.1,528.5 L1060.3,529.5 L1060.3,568.9 L1054.1,567.3 L1048.0,565.8 L1041.8,564.3 L1035.7,562.9 L1029.5,561.5 L1023.3,560.2 L1017.2,558.9 L1011.0,557.6 L1004.9,556.4 L998.7,555.2 L992.5,554.0 L986.4,552.9 L980.2,551.9 L974.1,550.8 L967.9,549.8 L961.7,548.9 L955.6,548.0 L949.4,547.1 L943.3,546.3 L937.1,545.5 L930.9,544.8 L924.8,544.1 L918.6,543.5 L912.5,542.9 L906.3,542.3 L900.2,541.8 L894.0,541.4 L887.8,541.0 L881.7,540.6 L875.5,540.3 L869.4,540.0 L863.2,539.8 L857.0,539.7 L850.9,539.6 L844.7,539.5 L838.6,539.6 L832.4,539.6 L826.2,539.8 L820.1,540.0 L813.9,540.2 L807.8,540.5 L801.6,540.9 L795.4,541.4 L789.3,541.9 L783.1,542.4 L777.0,543.1 L770.8,543.8Z"/>
<path class="bl" d="M770.8,512.9 L777.0,513.1 L783.1,513.3 L789.3,513.4 L795.4,513.6 L801.6,513.7 L807.8,513.8 L813.9,513.9 L820.1,514.0 L826.2,514.0 L832.4,514.1 L838.6,514.1 L844.7,514.1 L850.9,514.0 L857.0,514.0 L863.2,513.9 L869.4,513.9 L875.5,513.8 L881.7,513.7 L887.8,513.6 L894.0,513.4 L900.2,513.3 L906.3,513.1 L912.5,512.9 L918.6,512.7 L924.8,512.5 L930.9,512.3 L937.1,512.1 L943.3,511.9 L949.4,511.6 L955.6,511.4 L961.7,511.1 L967.9,510.8 L974.1,510.5 L980.2,510.2 L986.4,509.9 L992.5,509.6 L998.7,509.3 L1004.9,509.0 L1011.0,508.6 L1017.2,508.3 L1023.3,507.9 L1029.5,507.6 L1035.7,507.2 L1041.8,506.9 L1048.0,506.5 L1054.1,506.1 L1060.3,505.8"/>
<path class="rl" d="M770.8,520.8 L777.0,520.5 L783.1,520.2 L789.3,519.9 L795.4,519.7 L801.6,519.5 L807.8,519.3 L813.9,519.3 L820.1,519.2 L826.2,519.2 L832.4,519.2 L838.6,519.3 L844.7,519.5 L850.9,519.6 L857.0,519.8 L863.2,520.1 L869.4,520.4 L875.5,520.7 L881.7,521.1 L887.8,521.6 L894.0,522.0 L900.2,522.5 L906.3,523.1 L912.5,523.7 L918.6,524.3 L924.8,525.0 L930.9,525.7 L937.1,526.5 L943.3,527.3 L949.4,528.1 L955.6,529.0 L961.7,529.9 L967.9,530.8 L974.1,531.8 L980.2,532.8 L986.4,533.8 L992.5,534.9 L998.7,536.0 L1004.9,537.2 L1011.0,538.3 L1017.2,539.5 L1023.3,540.8 L1029.5,542.0 L1035.7,543.3 L1041.8,544.6 L1048.0,546.0 L1054.1,547.3 L1060.3,548.7"/>
<rect class="ax" x="759.7" y="414.4" width="312.3" height="193.1"/>
<path class="ax" d="M768.3,607.5v5.0M841.2,607.5v5.0M914.1,607.5v5.0M987.0,607.5v5.0M1059.9,607.5v5.0M759.7,436.5h-4.9M759.7,473.6h-4.9M759.7,510.8h-4.9M759.7,548.0h-4.9M759.7,585.1h-4.9"/>
<text class="tk" x="768.3" y="623.6" text-anchor="middle">−20</text>
<text class="tk" x="841.2" y="623.6" text-anchor="middle">−15</text>
<text class="tk" x="914.1" y="623.6" text-anchor="middle">−10</text>
<text class="tk" x="987.0" y="623.6" text-anchor="middle">−5</text>
<text class="tk" x="1059.9" y="623.6" text-anchor="middle">0</text>
<text class="tk" transform="translate(748.6,436.5) rotate(-90)" text-anchor="middle">0.10</text>
<text class="tk" transform="translate(748.6,473.6) rotate(-90)" text-anchor="middle">0.05</text>
<text class="tk" transform="translate(748.6,510.8) rotate(-90)" text-anchor="middle">0.00</text>
<text class="tk" transform="translate(748.6,548.0) rotate(-90)" text-anchor="middle">−0.05</text>
<text class="tk" transform="translate(748.6,585.1) rotate(-90)" text-anchor="middle">−0.10</text>
<rect class="lg" x="759.7" y="414.4" width="102.8" height="34.4"/>
<path class="bl" d="M767.2,424.0H787.0"/>
<path class="rl" d="M767.2,436.5H787.0"/>
<text class="lt" x="794.8" y="426.4">Cognitively normal</text>
<text class="lt" x="794.8" y="438.9">AD</text>
<text class="tt" x="752.1" y="400.1" xml:space="preserve">F  Rate of change of hippocampal volume</text>
<text class="xl" x="831.9" y="646.6">Years before AD diagnosis</text>
</g>
</svg>
</body>
</html>
